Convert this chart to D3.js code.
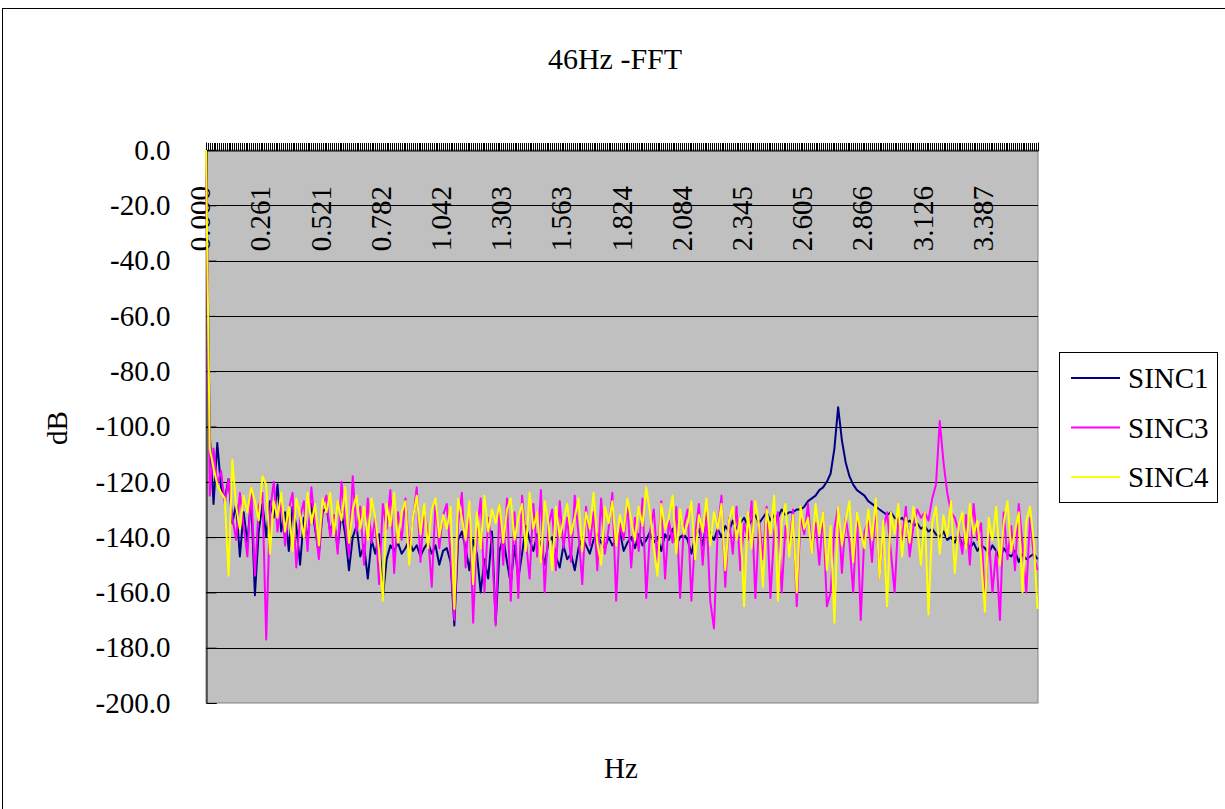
<!DOCTYPE html>
<html>
<head>
<meta charset="utf-8">
<script src="https://cdn.jsdelivr.net/npm/d3@7"></script>
<style>
  body { margin: 0; background: #fff; }
  svg text { font-family: "Liberation Serif", "Times New Roman", "DejaVu Serif", serif; fill: #000; }
</style>
</head>
<body>
<div id="chart"></div>
<script>
var width = 1225, height = 809;
var serif = '"Liberation Serif", "Times New Roman", "DejaVu Serif", serif';

// FFT bin spacing: one label every 32 bins, values sampled every 2 bins
var labelStep = 0.2605;
var binHz = labelStep / 32;
var sampleHz = labelStep / 16;
var maxHz = 3.6;

var tickLabels = ["0.000", "0.261", "0.521", "0.782", "1.042", "1.303", "1.563",
  "1.824", "2.084", "2.345", "2.605", "2.866", "3.126", "3.387"];
var yTicks = [0, -20, -40, -60, -80, -100, -120, -140, -160, -180, -200];
var seriesNames = ["SINC1", "SINC3", "SINC4"];
var seriesColors = ["#000080", "#ff00ff", "#ffff00"];

var sinc1 = [
  0, -103, -128, -106, -122, -126, -119, -135, -128, -147, -131, -142, -126, -161, -138, -128,
  -140, -127, -133, -121, -138, -131, -145, -129, -136, -150, -133, -141, -128, -137, -146, -131,
  -129, -138, -134, -144, -131, -139, -152, -140, -136, -147, -143, -155, -141, -146, -139, -162,
  -148, -143, -145, -142, -146, -144, -141, -145, -143, -147, -144, -142, -146, -143, -150, -145,
  -144, -149, -172, -141, -138, -144, -152, -141, -146, -160, -148, -155, -138, -171, -145, -140,
  -149, -157, -143, -155, -146, -136, -141, -145, -139, -143, -150, -142, -140, -147, -151, -143,
  -148, -146, -152, -144, -140, -143, -146, -141, -139, -142, -144, -140, -143, -141, -138, -145,
  -142, -140, -144, -139, -143, -141, -138, -142, -140, -145, -139, -141, -137, -143, -140, -139,
  -141, -146, -140, -137, -143, -135, -139, -141, -137, -140, -136, -138, -134, -137, -135, -133,
  -136, -134, -132, -135, -133, -131, -134, -132, -133, -130, -132, -131, -131, -130, -130, -129,
  -127, -126, -125, -123, -122, -120, -117, -108, -93, -105, -113, -118, -121, -123, -124, -125,
  -127, -128, -129, -130, -131, -132, -131, -133, -134, -133, -135, -134, -136, -135, -137, -136,
  -138, -137, -139, -140, -138, -141, -140, -142, -139, -143, -141, -144, -142, -145, -143, -144,
  -146, -143, -145, -148, -144, -146, -147, -145, -149, -146, -148, -147, -146, -148
];

var sinc3 = [
  0, -125, -108, -121, -116, -128, -119, -133, -141, -124, -136, -147, -122, -154, -129, -124,
  -177, -131, -120, -138, -126, -143, -130, -124, -151, -133, -127, -145, -122, -136, -148, -129,
  -125, -140, -132, -146, -120, -135, -147, -118, -138, -129, -150, -126, -142, -133, -157, -128,
  -137, -123, -153, -131, -141, -126, -145, -134, -122, -149, -130, -139, -158, -127, -144, -132,
  -128, -147, -170, -135, -124, -151, -129, -171, -138, -126, -160, -133, -143, -172, -128, -150,
  -126, -163, -131, -162, -125, -141, -155, -128, -147, -123, -160, -136, -130, -152, -127, -144,
  -133, -149, -125, -139, -157, -129, -143, -131, -152, -126, -146, -137, -124, -163, -135, -141,
  -128, -151, -133, -145, -126, -162, -138, -130, -149, -127, -155, -134, -142, -129, -162, -136,
  -130, -163, -139, -128, -150, -131, -163, -173, -137, -125, -158, -133, -146, -129, -152, -135,
  -141, -127, -162, -134, -148, -129, -162, -138, -131, -160, -136, -144, -130, -165, -133, -139,
  -128, -146, -135, -150, -131, -165, -160, -137, -129, -153, -133, -142, -160, -131, -170, -138,
  -134, -149, -128, -155, -137, -131, -145, -160, -133, -141, -129, -147, -136, -130, -133, -131,
  -134, -126, -121, -98, -113, -124, -131, -133, -138, -146, -132, -150, -128, -141, -135, -165,
  -139, -160, -145, -170, -131, -148, -136, -152, -128, -143, -160, -133, -147, -152
];

var sinc4 = [
  0, -108, -115, -121, -124, -126, -154, -112, -129, -137, -125, -131, -122, -127, -134, -118,
  -121, -146, -127, -133, -124, -138, -129, -145, -126, -132, -140, -124, -135, -128, -143, -126,
  -131, -124, -139, -127, -134, -122, -142, -130, -125, -137, -129, -141, -126, -133, -145, -163,
  -128, -136, -124, -142, -131, -127, -150, -133, -125, -139, -128, -144, -130, -126, -140, -132,
  -137, -129, -166, -126, -133, -141, -127, -157, -131, -144, -125, -138, -130, -135, -128, -142,
  -130, -126, -141, -133, -128, -145, -124, -137, -131, -149, -127, -135, -152, -129, -140, -134,
  -128, -139, -133, -126, -145, -131, -137, -124, -142, -150, -129, -135, -127, -143, -132, -138,
  -126, -134, -141, -129, -136, -122, -131, -144, -154, -128, -137, -133, -125, -146, -130, -139,
  -135, -127, -148, -132, -138, -126, -143, -131, -137, -128, -152, -134, -129, -141, -133, -165,
  -131, -144, -127, -136, -158, -130, -139, -125, -163, -134, -128, -147, -132, -160, -129, -137,
  -133, -146, -128, -139, -131, -152, -136, -171, -129, -143, -134, -127, -149, -131, -138, -144,
  -130, -141, -126, -155, -134, -165, -131, -139, -128, -147, -133, -142, -129, -136, -150, -131,
  -168, -135, -129, -146, -132, -140, -127, -153, -136, -131, -144, -128, -139, -134, -148, -167,
  -133, -141, -129, -150, -135, -127, -145, -138, -131, -160, -134, -129, -142, -166
];

var plot = {left: 206, top: 150, right: 1038, bottom: 703};

var svg = d3.select("#chart")
  .append("svg")
  .attr("width", width)
  .attr("height", height)
  .attr("font-family", serif);

svg.append("rect")
  .attr("x", 2.5).attr("y", 8.5)
  .attr("width", 1240).attr("height", 820)
  .attr("fill", "#fff")
  .attr("stroke", "#000");

var x = d3.scaleLinear().domain([0, maxHz]).range([plot.left, plot.right]);
var y = d3.scaleLinear().domain([0, -200]).range([plot.top, plot.bottom]);

svg.append("rect")
  .attr("x", plot.left).attr("y", plot.top)
  .attr("width", plot.right - plot.left)
  .attr("height", plot.bottom - plot.top)
  .attr("fill", "#c0c0c0")
  .attr("stroke", "#808080");

// horizontal gridlines
svg.append("g")
  .selectAll("line")
  .data(yTicks.filter(d => d < 0 && d > -200))
  .enter()
  .append("line")
  .attr("x1", plot.left).attr("x2", plot.right)
  .attr("y1", d => Math.round(y(d)) + 0.5)
  .attr("y2", d => Math.round(y(d)) + 0.5)
  .attr("stroke", "#000");

// y axis
var yAxis = svg.append("g")
  .attr("transform", "translate(" + (plot.left + 0.5) + ",0)")
  .call(d3.axisLeft(y)
    .tickValues(yTicks)
    .tickSize(-10)
    .tickPadding(36)
    .tickFormat(d => d.toFixed(1)));
yAxis.attr("font-family", serif).attr("font-size", 29);
yAxis.select(".domain").attr("stroke", "#000");
yAxis.selectAll(".tick line").attr("stroke", "#000");
yAxis.selectAll("text").attr("fill", "#000");

// x axis on top, one tick per bin
var bins = d3.range(Math.floor(maxHz / binHz) + 1).map(i => i * binHz);
var xAxis = svg.append("g")
  .attr("transform", "translate(0," + (plot.top + 0.5) + ")")
  .call(d3.axisTop(x)
    .tickValues(bins)
    .tickSize(8)
    .tickFormat(""));
xAxis.select(".domain").attr("stroke", "#000");
xAxis.selectAll(".tick line").attr("stroke", "#000").attr("shape-rendering", "crispEdges");

// category labels
var labelShift = -6;
svg.append("g")
  .selectAll("text")
  .data(tickLabels)
  .enter()
  .append("text")
  .attr("transform", (d, i) => "translate(" + (x(i * labelStep) + labelShift) + ",186) rotate(-90)")
  .attr("dy", "0.35em")
  .attr("text-anchor", "end")
  .attr("font-size", 29)
  .text(d => d);

// series
var line = d3.line()
  .x((d, i) => x(i * sampleHz))
  .y(d => y(d));

[sinc1, sinc3, sinc4].forEach(function(s, k) {
  svg.append("path")
    .datum(s)
    .attr("fill", "none")
    .attr("stroke", seriesColors[k])
    .attr("stroke-width", 2)
    .attr("stroke-linejoin", "round")
    .attr("d", line);
});

// titles
svg.append("text")
  .attr("x", 615).attr("y", 69)
  .attr("text-anchor", "middle")
  .attr("font-size", 30)
  .text("46Hz -FFT");

svg.append("text")
  .attr("transform", "translate(57,428) rotate(-90)")
  .attr("dy", "0.35em")
  .attr("text-anchor", "middle")
  .attr("font-size", 29)
  .text("dB");

svg.append("text")
  .attr("x", 621).attr("y", 778)
  .attr("text-anchor", "middle")
  .attr("font-size", 29)
  .text("Hz");

// legend
var legend = svg.append("g");
legend.append("rect")
  .attr("x", 1059.5).attr("y", 352.5)
  .attr("width", 158).attr("height", 150)
  .attr("fill", "#fff")
  .attr("stroke", "#000");

var row = legend.selectAll(".row")
  .data(seriesNames)
  .enter()
  .append("g")
  .attr("transform", (d, i) => "translate(0," + (378 + i * 49.5) + ")");

row.append("line")
  .attr("x1", 1071).attr("x2", 1120)
  .attr("stroke", (d, i) => seriesColors[i])
  .attr("stroke-width", 2);

row.append("text")
  .attr("x", 1128)
  .attr("dy", "0.35em")
  .attr("font-size", 29)
  .text(d => d);
</script>
</body>
</html>
